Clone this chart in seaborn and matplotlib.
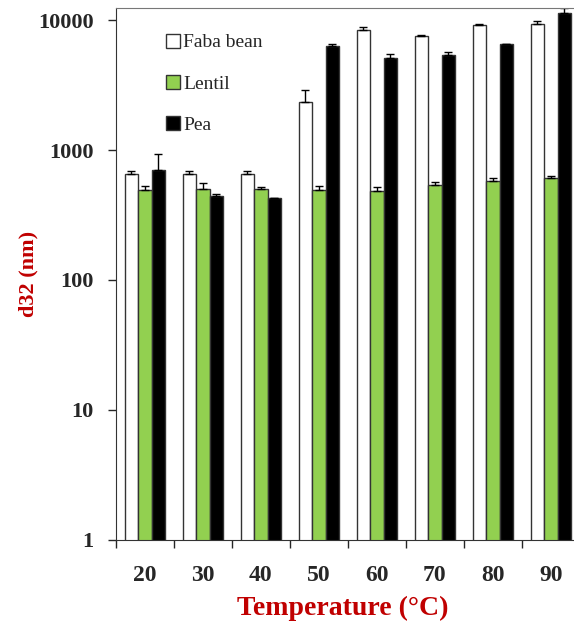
import numpy as np
import pandas as pd
import matplotlib
matplotlib.use("Agg")
import matplotlib.pyplot as plt
import seaborn as sns

# Werte
temperatures = ["20", "30", "40", "50", "60", "70", "80", "90"]
faba_bean = [650, 650, 650, 2350, 8400, 7500, 9200, 9300]
faba_err = [45, 45, 40, 550, 400, 150, 80, 600]
lentil = [490, 505, 505, 490, 480, 540, 580, 610]
lentil_err = [35, 50, 10, 40, 40, 30, 25, 20]
pea = [700, 440, 425, 6300, 5100, 5400, 6500, 11300]
pea_err = [230, 20, 5, 250, 350, 250, 0, 1000]

species = ["Faba bean", "Lentil", "Pea"]
colors = ["white", "#92D050", "black"]

df = pd.DataFrame({
    "Temperature": temperatures * 3,
    "Species": np.repeat(species, len(temperatures)),
    "d32": faba_bean + lentil + pea,
})
errors = [faba_err, lentil_err, pea_err]

sns.set_style("ticks")
plt.rcParams["font.family"] = ["Liberation Serif", "DejaVu Serif"]

fig = plt.figure(figsize=(5.74, 6.24), dpi=100)
ax = fig.add_axes([0.202, 0.135, 0.798, 0.852])

sns.barplot(data=df, x="Temperature", y="d32", hue="Species", palette=colors,
            saturation=1, errorbar=None, width=0.7, linewidth=1,
            edgecolor="#333333", ax=ax)
ax.set_yscale("log")

# Fehlerbalken
for cont, err in zip(ax.containers, errors):
    xs = [b.get_x() + b.get_width() / 2 for b in cont]
    ys = [b.get_height() for b in cont]
    ax.errorbar(xs, ys, yerr=[np.zeros(len(err)), err], fmt="none",
                ecolor="black", elinewidth=1, capsize=3, capthick=1)

ax.set_ylim(1, 12370)
ax.set_xlim(-0.5, 7.4)
ax.set_yticks([1, 10, 100, 1000, 10000])
ax.set_yticklabels(["1", "10", "100", "1000", "10000"])
ax.yaxis.set_minor_locator(matplotlib.ticker.NullLocator())
ax.set_xticks(np.arange(8))
ax.set_xticklabels(temperatures)
ax.set_xticks(np.arange(-0.5, 7.5, 1), minor=True)
ax.tick_params(axis="x", which="major", length=0, pad=18)
ax.tick_params(axis="x", which="minor", length=6, width=1, direction="out")
ax.tick_params(axis="y", which="major", length=6, width=1, direction="out", pad=10)
for lab in ax.get_xticklabels():
    lab.set_fontsize(17)
    lab.set_fontweight("bold")
for lab in ax.get_yticklabels():
    lab.set_fontsize(16)
    lab.set_fontweight("bold")

for s in ["left", "bottom"]:
    ax.spines[s].set_color("#333333")
ax.spines["top"].set_color("#777777")
ax.spines["right"].set_visible(False)

ax.set_xlabel("Temperature (°C)", fontsize=20, fontweight="bold", color="#C00000")
ax.xaxis.set_label_coords(0.495, -0.105)
ax.set_ylabel("d32 (nm)", fontsize=16, fontweight="bold", color="#C00000")
ax.yaxis.set_label_coords(-0.17, 0.5)

leg = ax.legend(loc="upper left", bbox_to_anchor=(0.07, 0.985), frameon=False,
                fontsize=14, handlelength=0.75, handleheight=0.75, handletextpad=0.15,
                labelspacing=1.2)
for h in leg.legend_handles:
    h.set_edgecolor("#333333")

fig.savefig("out.png", dpi=100)
